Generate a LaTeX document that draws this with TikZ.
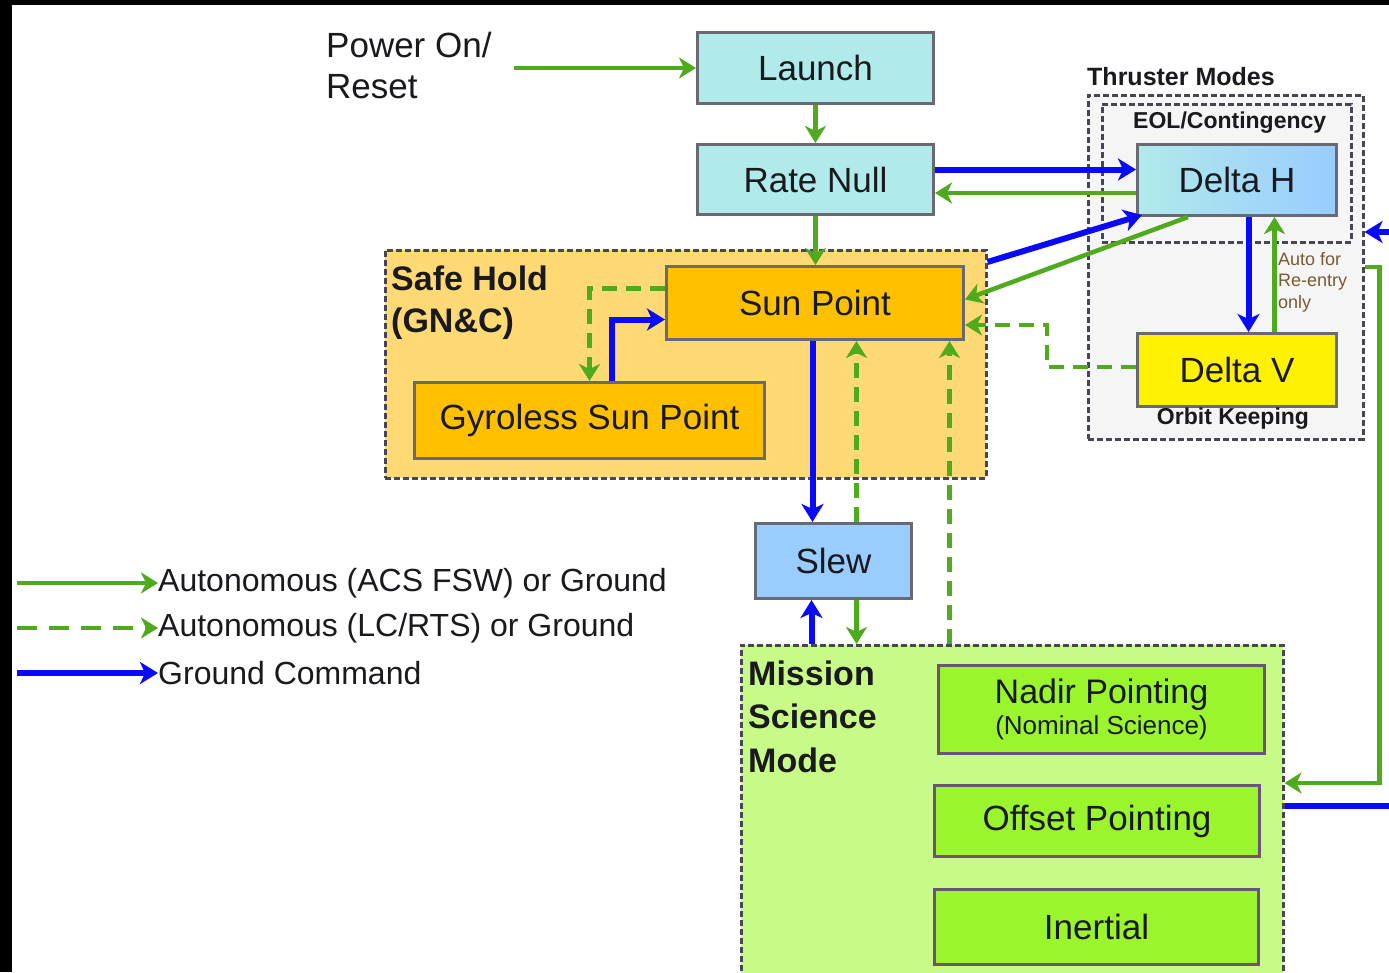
\documentclass[tikz,border=0pt]{standalone}
\usepackage{fontspec}
\setmainfont{Liberation Sans}
\usetikzlibrary{arrows.meta,calc}
\definecolor{gr}{RGB}{80,170,30}
\definecolor{bl}{RGB}{10,10,250}
\definecolor{boxline}{RGB}{105,105,115}
\definecolor{contline}{RGB}{70,70,85}
\definecolor{cyanfill}{RGB}{176,234,234}
\definecolor{slewfill}{RGB}{153,204,255}
\definecolor{sunfill}{RGB}{255,192,0}
\definecolor{safefill}{RGB}{255,217,115}
\definecolor{misfill}{RGB}{200,250,135}
\definecolor{nadirfill}{RGB}{155,245,45}
\definecolor{thrfill}{RGB}{245,245,245}
\definecolor{txt}{RGB}{25,25,30}
\definecolor{autotxt}{RGB}{120,90,50}
\newcommand{\fs}[2]{\fontsize{#1}{#2}\selectfont}
\begin{document}
\begin{tikzpicture}[x=1pt,y=-1pt,
  box/.style={draw=boxline, line width=3pt, rectangle, anchor=north west, inner sep=0pt, text=txt, font=\fs{35}{40}},
  gbox/.style={box, draw=boxline!80!violet, fill=nadirfill},
  cont/.style={draw=contline, line width=2.5pt, dash pattern=on 6pt off 3pt, rectangle, anchor=north west, inner sep=0pt},
  garrow/.style={draw=gr, line width=4.5pt, -{Stealth[length=17pt,width=21pt,inset=5pt]}},
  gdash/.style={garrow, dash pattern=on 15pt off 9pt},
  barrow/.style={draw=bl, line width=6pt, -{Stealth[length=18pt,width=22pt,inset=5pt]}},
  bline/.style={draw=bl, line width=6pt},
  lbl/.style={inner sep=0pt, text=txt, font=\bfseries\fs{34}{42}, align=left},
  legtext/.style={inner sep=0pt, anchor=west, text=txt, font=\fs{32}{36}}
]
\clip (0,0) rectangle (1389,972);
\fill[black] (0,0) rectangle (1389,972);
\fill[white] (12,5) rectangle (1389,972);

% containers
\node[cont, fill=safefill, minimum width=601pt, minimum height=228pt] (safehold) at (384,249) {};
\node[cont, fill=thrfill, minimum width=275pt, minimum height=344pt] (thruster) at (1087,94) {};
\node[cont, minimum width=249pt, minimum height=138pt] (eol) at (1101,103) {};
\node[cont, fill=misfill, minimum width=542pt, minimum height=360pt] (mission) at (740,644) {};

% boxes
\node[box, fill=cyanfill, minimum width=236pt, minimum height=71pt] (launch) at (696,31) {Launch};
\node[box, fill=cyanfill, minimum width=236pt, minimum height=70pt] (ratenull) at (696,143) {Rate Null};
\node[box, fill=sunfill, minimum width=297pt, minimum height=73pt] (sunpoint) at (665,265) {Sun Point};
\node[box, fill=sunfill, minimum width=350pt, minimum height=76pt] (gyro) at (413,381) {Gyroless Sun Point};
\node[box, fill=slewfill, minimum width=156pt, minimum height=75pt] (slew) at (754,522) {Slew};
\node[box, left color=cyanfill, right color=slewfill, minimum width=199pt, minimum height=71pt] (deltah) at (1136,143) {Delta H};
\node[box, fill=yellow, minimum width=199pt, minimum height=73pt] (deltav) at (1136,332) {Delta V};
\node[gbox, minimum width=326pt, minimum height=88pt, align=center, font=\fs{34}{31}] (nadir) at (937,664) {Nadir Pointing\\{\fs{26}{31}(Nominal Science)}};
\node[gbox, minimum width=325pt, minimum height=71pt] (offset) at (933,784) {Offset Pointing};
\node[gbox, minimum width=324pt, minimum height=75pt] (inertial) at (933,888) {Inertial};

% labels
\node[lbl, anchor=base west] (safelbl) at (391,332) {Safe Hold\\(GN\&C)};
\node[lbl, anchor=base west, font=\bfseries\fs{34}{43.5}] (mislbl) at (748,772) {Mission\\Science\\Mode};
\node[lbl, anchor=base west, font=\bfseries\fs{25}{30}] (thrlbl) at (1087,85) {Thruster Modes};
\node[lbl, anchor=base west, font=\bfseries\fs{23}{28}] (eollbl) at (1133,128) {EOL/Contingency};
\node[lbl, anchor=base, font=\bfseries\fs{23}{28}] (orblbl) at (1233,424) {Orbit Keeping};
\node[inner sep=0pt, anchor=north west, align=left, text=autotxt, font=\fs{18}{21.5}] (autolbl) at (1278,252) {Auto for\\Re-entry\\only};
\node[inner sep=0pt, anchor=west, align=left, text=txt, font=\fs{35}{41}] (power) at (326,65) {Power On/\\Reset};

% legend
\coordinate (lg1) at (17,583);
\coordinate (lg2) at (17,628);
\coordinate (lg3) at (17,673);
\node[legtext] (lt1) at (158,583) {Autonomous (ACS FSW) or Ground};
\node[legtext] (lt2) at (158,628) {Autonomous (LC/RTS) or Ground};
\node[legtext] (lt3) at (158,673) {Ground Command};
\draw[garrow] (lg1) -- (lt1.west);
\draw[gdash, dash pattern=on 20pt off 12pt] (lg2) -- (lt2.west);
\draw[barrow] (lg3) -- (lt3.west);

% connectors
\draw[garrow] ([xshift=22pt]power.east |- launch.west) -- (launch.west);
\draw[garrow] (launch.south) -- (ratenull.north);
\draw[garrow] (ratenull.south) -- (ratenull.south |- sunpoint.north);
\draw[barrow] ([yshift=10pt]ratenull.east) -- ([yshift=10pt]ratenull.east -| deltah.west);
\draw[garrow] ([yshift=-13pt]deltah.west) -- ([yshift=-13pt]deltah.west -| ratenull.east);
\draw[barrow] ([yshift=-13pt]safehold.north east) -- ([xshift=6pt,yshift=2pt]deltah.south west);
\draw[garrow] ([xshift=52pt]deltah.south west) -- ([yshift=3.5pt]sunpoint.east);
\coordinate (dvb) at (1047,325);
\draw[gdash] ([yshift=3pt]deltav.west) -| (dvb) -- (dvb -| sunpoint.east);
\draw[barrow] ([xshift=11.5pt]deltah.south) -- ([xshift=11.5pt]deltav.north);
\draw[garrow] ([xshift=37.5pt]deltav.north) -- ([xshift=37.5pt]deltah.south);
\draw[gdash] ([yshift=14.5pt]sunpoint.west) -| (gyro.north);
\draw[barrow] ([xshift=22pt]gyro.north) |- ([yshift=-16.5pt]sunpoint.west);
\draw[barrow] ([xshift=-2.5pt]sunpoint.south) -- ([xshift=-21pt]slew.north);
\draw[gdash] ([xshift=23pt]slew.north) -- ([xshift=41.5pt]sunpoint.south);
\draw[barrow] ([xshift=-22pt]slew.south |- mission.north) -- ([xshift=-22pt]slew.south);
\draw[garrow] ([xshift=23pt]slew.south) -- ([xshift=23pt]slew.south |- mission.north);
\draw[gdash] ([xshift=134.5pt]sunpoint.south |- mission.north) -- ([xshift=134.5pt]sunpoint.south);
\coordinate (re1) at (1389,232);
\coordinate (re2) at (1389,806);
\draw[barrow] (re1) -- (re1 -| thruster.east);
\draw[garrow] ([yshift=-173pt]thruster.north east) -- ++(15,0) |- ([yshift=-139pt]mission.north east);
\draw[bline] ([yshift=-162pt]mission.north east) -- (re2);
\end{tikzpicture}
\end{document}
